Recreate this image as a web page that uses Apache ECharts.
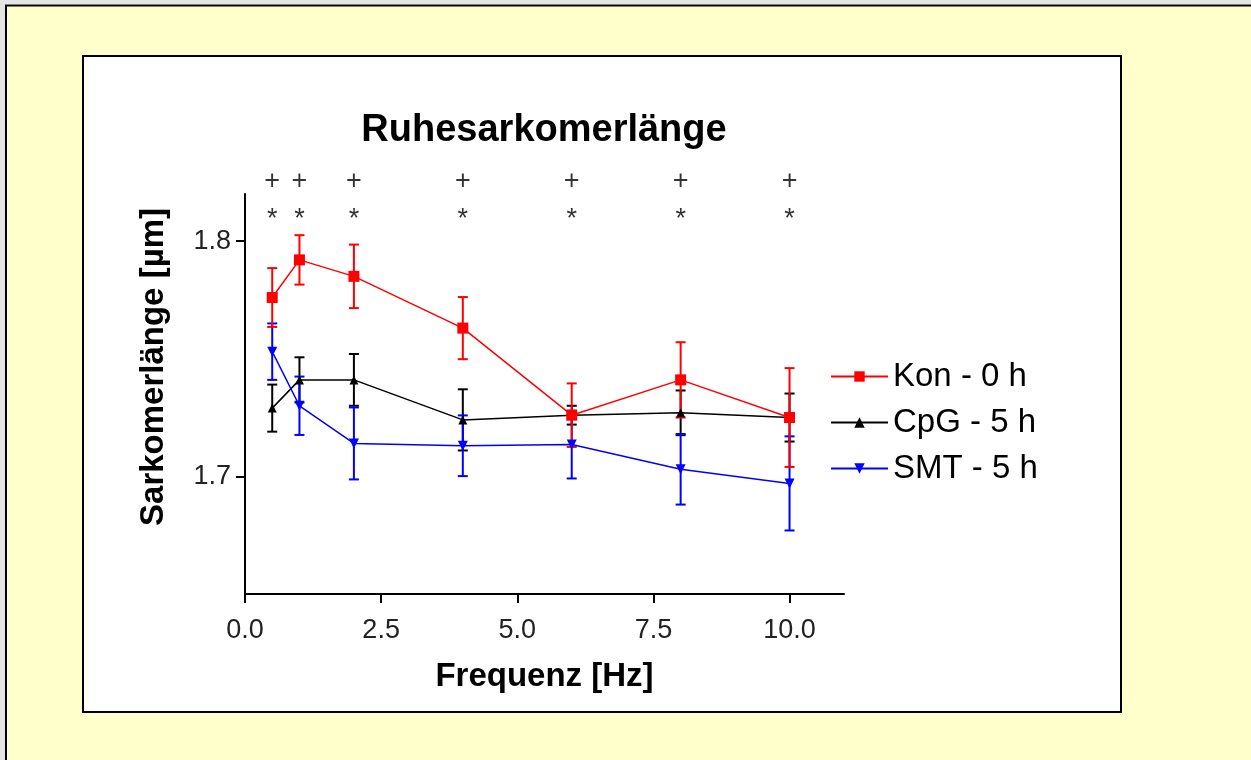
<!DOCTYPE html>
<html>
<head>
<meta charset="utf-8">
<script src="https://cdn.jsdelivr.net/npm/echarts@6/dist/echarts.min.js"></script>
<style>
html, body { margin: 0; padding: 0; background: #FFFFCC; }
#chart { width: 1251px; height: 760px; }
</style>
</head>
<body>
<div id="chart"></div>
<script>
// ---- data ----
var freq = [0.5, 1, 2, 4, 6, 8, 10];
var konMean = [1.776, 1.792, 1.785, 1.763, 1.726, 1.741, 1.725];
var konErr  = [0.0125, 0.0105, 0.0135, 0.0132, 0.0135, 0.016, 0.021];
var cpgMean = [1.729, 1.741, 1.741, 1.724, 1.726, 1.727, 1.725];
var cpgErr  = [0.010, 0.0096, 0.011, 0.013, 0.004, 0.0095, 0.0102];
var smtMean = [1.753, 1.730, 1.714, 1.713, 1.7135, 1.703, 1.697];
var smtErr  = [0.012, 0.0124, 0.0153, 0.0129, 0.0144, 0.015, 0.020];
var seriesNames = ['Kon - 0 h', 'CpG - 5 h', 'SMT - 5 h'];
var plusLevel = 1.8251;
var starLevel = 1.8119;
var xTicks = [0, 2.5, 5, 7.5, 10];
var yTicks = [1.7, 1.8];
var titleText = 'Ruhesarkomerlänge';
var xName = 'Frequenz [Hz]';
var yName = 'Sarkomerlänge [µm]';

var FONT = '"Liberation Sans", Arial, sans-serif';

function pts(means) { return freq.map(function (f, i) { return [f, means[i]]; }); }
function errs(means, e) { return freq.map(function (f, i) { return [f, means[i] - e[i], means[i] + e[i]]; }); }

function errSeries(name, means, e, color) {
  return {
    name: name + ' err',
    type: 'custom',
    data: errs(means, e),
    z: 3,
    silent: true,
    renderItem: function (params, api) {
      var x = api.value(0);
      var lo = api.coord([x, api.value(1)]);
      var hi = api.coord([x, api.value(2)]);
      var hw = 5;
      var style = { stroke: color, lineWidth: 2, fill: null };
      return {
        type: 'group',
        children: [
          { type: 'line', shape: { x1: lo[0], y1: lo[1], x2: hi[0], y2: hi[1] }, style: style },
          { type: 'line', shape: { x1: lo[0] - hw, y1: lo[1], x2: lo[0] + hw, y2: lo[1] }, style: style },
          { type: 'line', shape: { x1: hi[0] - hw, y1: hi[1], x2: hi[0] + hw, y2: hi[1] }, style: style }
        ]
      };
    }
  };
}

function lineSeries(name, means, color, symbol, size, rotate) {
  return {
    name: name,
    type: 'line',
    data: pts(means),
    z: 4,
    symbol: symbol,
    symbolSize: size,
    symbolRotate: rotate || 0,
    showAllSymbol: true,
    lineStyle: { color: color, width: 1.5 },
    itemStyle: { color: color },
    emphasis: { disabled: true },
    animation: false
  };
}

function annot(level, txt, offY, size) {
  return {
    type: 'scatter',
    data: freq.map(function (f) { return [f, level]; }),
    clip: false,
    symbolSize: 1,
    itemStyle: { color: 'rgba(0,0,0,0)' },
    silent: true,
    label: {
      show: true, position: 'inside', formatter: txt,
      color: '#000', fontFamily: FONT, fontSize: size, offset: [0, offY]
    }
  };
}

var chart = echarts.init(document.getElementById('chart'), null, { renderer: 'canvas' });
chart.setOption({
  animation: false,
  backgroundColor: '#FFFFCC',
  graphic: [
    { type: 'rect', z: -10, shape: { x: 0, y: 0, width: 1251, height: 4 }, style: { fill: '#e4e4e4' } },
    { type: 'rect', z: -10, shape: { x: 0, y: 0, width: 5, height: 760 }, style: { fill: '#e4e4e4' } },
    { type: 'line', z: -9, shape: { x1: 6, y1: 5, x2: 6, y2: 760 }, style: { stroke: '#000', lineWidth: 2 } },
    { type: 'line', z: -9, shape: { x1: 5, y1: 5.5, x2: 1251, y2: 5.5 }, style: { stroke: '#000', lineWidth: 2 } },
    { type: 'rect', z: -8, shape: { x: 83, y: 56, width: 1038, height: 656 }, style: { fill: '#fff', stroke: '#000', lineWidth: 2 } },
    { type: 'text', z: 10, x: 544, y: 131, style: { text: titleText, align: 'center', verticalAlign: 'middle', font: 'bold 38px ' + FONT, fill: '#000' } }
  ],
  grid: { left: 245, top: 194, width: 599, height: 400, containLabel: false, outerBoundsMode: 'none' },
  legend: {
    orient: 'vertical',
    left: 825,
    top: 355,
    itemWidth: 57,
    itemHeight: 13,
    itemGap: 13,
    data: seriesNames,
    textStyle: { fontFamily: FONT, fontSize: 33, color: '#000', lineHeight: 33 },
    selectedMode: false
  },
  xAxis: {
    type: 'value',
    min: 0, max: 11,
    interval: 2.5,
    name: xName,
    nameLocation: 'middle',
    nameGap: 66,
    nameTextStyle: { fontFamily: FONT, fontSize: 33, fontWeight: 'bold', color: '#000' },
    axisLine: { show: true, onZero: false, lineStyle: { color: '#000', width: 2 } },
    axisTick: { show: true, length: 9, customValues: xTicks, lineStyle: { color: '#000', width: 2 } },
    axisLabel: { customValues: xTicks, fontFamily: FONT, fontSize: 27, color: '#222', margin: 23,
      formatter: function (v) { return v.toFixed(1); } },
    splitLine: { show: false }
  },
  yAxis: {
    type: 'value',
    min: 1.65, max: 1.82,
    name: yName,
    nameLocation: 'middle',
    nameGap: 75,
    nameTextStyle: { fontFamily: FONT, fontSize: 33, fontWeight: 'bold', color: '#000', padding: [0, 0, 0, 54] },
    axisLine: { show: true, onZero: false, lineStyle: { color: '#000', width: 2 } },
    axisTick: { show: true, length: 9, customValues: yTicks, lineStyle: { color: '#000', width: 2 } },
    axisLabel: { customValues: yTicks, fontFamily: FONT, fontSize: 27, color: '#222', margin: 14,
      formatter: function (v) { return v.toFixed(1); } },
    splitLine: { show: false }
  },
  series: [
    errSeries(seriesNames[1], cpgMean, cpgErr, '#000'),
    errSeries(seriesNames[2], smtMean, smtErr, '#0000FF'),
    errSeries(seriesNames[0], konMean, konErr, '#FF0000'),
    lineSeries(seriesNames[1], cpgMean, '#000', 'triangle', 9),
    lineSeries(seriesNames[2], smtMean, '#0000FF', 'triangle', 10, 180),
    lineSeries(seriesNames[0], konMean, '#FF0000', 'rect', 11),
    annot(plusLevel, '+', 0, 27),
    annot(starLevel, '*', 6, 27)
  ]
});
</script>
</body>
</html>
